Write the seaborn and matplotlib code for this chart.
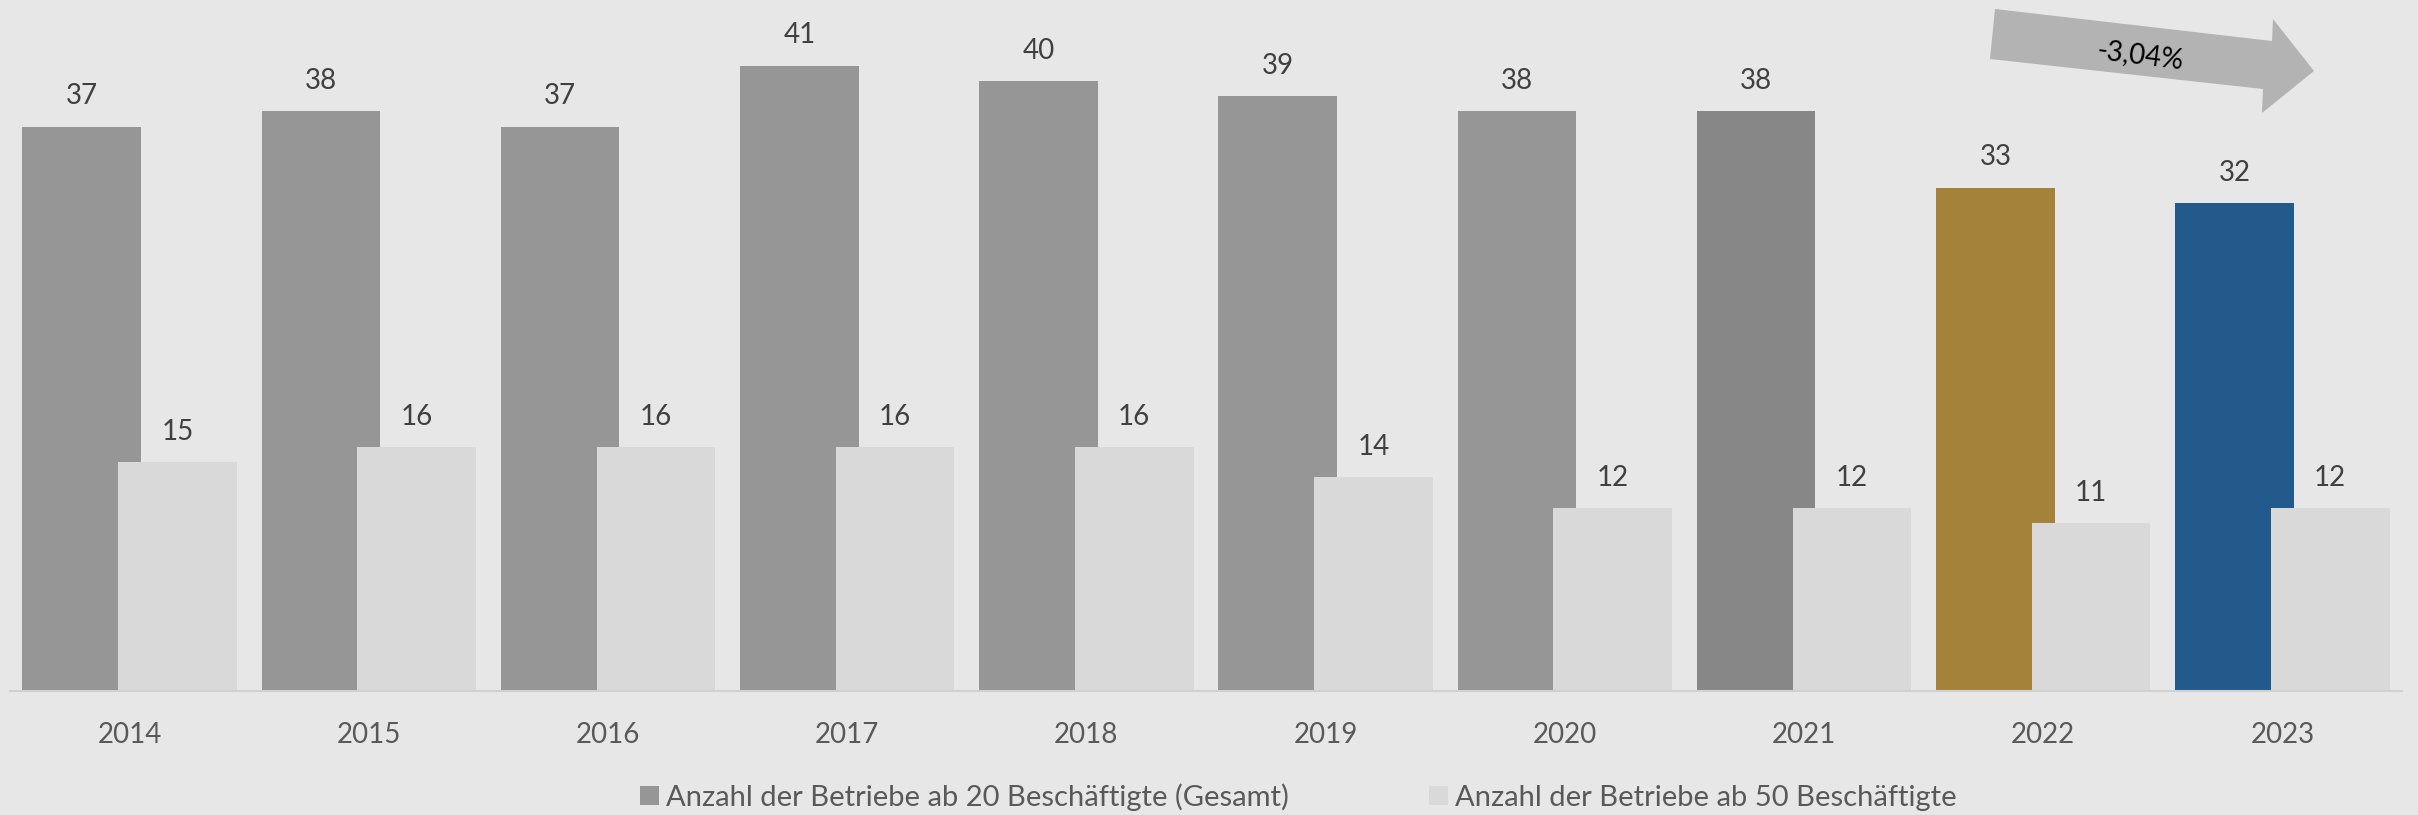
import matplotlib
matplotlib.use("Agg")
import matplotlib.pyplot as plt
from matplotlib.patches import Patch, Polygon
import seaborn as sns
import pandas as pd

# data
jahre = ["2014", "2015", "2016", "2017", "2018", "2019", "2020", "2021", "2022", "2023"]
betriebe_20 = [37, 38, 37, 41, 40, 39, 38, 38, 33, 32]
betriebe_50 = [15, 16, 16, 16, 16, 14, 12, 12, 11, 12]
serie_20 = "Anzahl der Betriebe ab 20 Beschäftigte (Gesamt)"
serie_50 = "Anzahl der Betriebe ab 50 Beschäftigte"
farben_20 = ["#969696"] * 7 + ["#878787", "#A5823A", "#235A8C"]
farbe_50 = "#D9D9D9"
trend_text = "-3,04%"

BG = "#E7E7E7"
W, H = 2418, 815

sns.set_style("white")
plt.rcParams["font.family"] = ["Lato", "DejaVu Sans"]

df = pd.DataFrame({
    "Jahr": jahre * 2,
    "Wert": betriebe_20 + betriebe_50,
    "Serie": [serie_20] * len(jahre) + [serie_50] * len(jahre),
})

fig = plt.figure(figsize=(W / 100, H / 100), dpi=100, facecolor=BG)
ax = fig.add_axes([10 / W, (H - 691) / H, 2392 / W, 691 / H])
ax.set_facecolor(BG)

sns.barplot(data=df, x="Jahr", y="Wert", hue="Serie", order=jahre,
            hue_order=[serie_20, serie_50], dodge=True, width=0.8,
            palette=["#969696", farbe_50], legend=False, ax=ax, saturation=1)

# widen bars so they overlap like the Excel original
bar_w = 0.496
for i, p in enumerate(ax.patches):
    c = p.get_x() + p.get_width() / 2
    p.set_width(bar_w)
    p.set_x(c - bar_w / 2)
    p.set_linewidth(0)
    if i < len(jahre):
        p.set_facecolor(farben_20[i])
    else:
        p.set_facecolor(farbe_50)
    v = p.get_height()
    ax.annotate(f"{v:.0f}", (c, v), xytext=(0, 16), textcoords="offset points",
                ha="center", va="baseline", fontsize=20, color="#404040")

ax.set_xlim(-0.5, len(jahre) - 0.5)
ax.set_ylim(0, 45.3)
ax.set_xlabel("")
ax.set_ylabel("")
ax.set_yticks([])
for s in ["top", "left", "right"]:
    ax.spines[s].set_visible(False)
ax.spines["bottom"].set_color("#D0D0D0")
ax.spines["bottom"].set_linewidth(1.5)
ax.set_xticks([i - 0.5 for i in range(len(jahre) + 1)], minor=True)
ax.tick_params(axis="x", which="minor", length=6.5, width=1.5, color="#D0D0D0", direction="out")
ax.tick_params(axis="x", which="major", length=0, pad=22, labelsize=20, labelcolor="#595959")

# trend arrow (pixel coordinates of the figure)
pts = [(1995, 9), (2272, 41), (2273, 19), (2314, 71), (2262, 113), (2263, 89), (1990, 59)]
pts = [(x / W, (H - y) / H) for x, y in pts]
fig.patches.append(Polygon(pts, closed=True, transform=fig.transFigure,
                           facecolor="#B3B3B3", edgecolor="none"))
fig.text(2140 / W, (H - 55) / H, trend_text, rotation=-7, ha="center", va="center",
         fontsize=20, color="#000000")

handles = [Patch(facecolor="#969696", edgecolor="none"), Patch(facecolor=farbe_50, edgecolor="none")]
fig.legend(handles, [serie_20, serie_50], loc="center", bbox_to_anchor=(0.537, 0.022),
           ncol=2, frameon=False, fontsize=21, labelcolor="#595959",
           handlelength=0.65, handleheight=0.65, handletextpad=0.25, columnspacing=4.8)

fig.savefig("out.png", dpi=100, facecolor=BG)
